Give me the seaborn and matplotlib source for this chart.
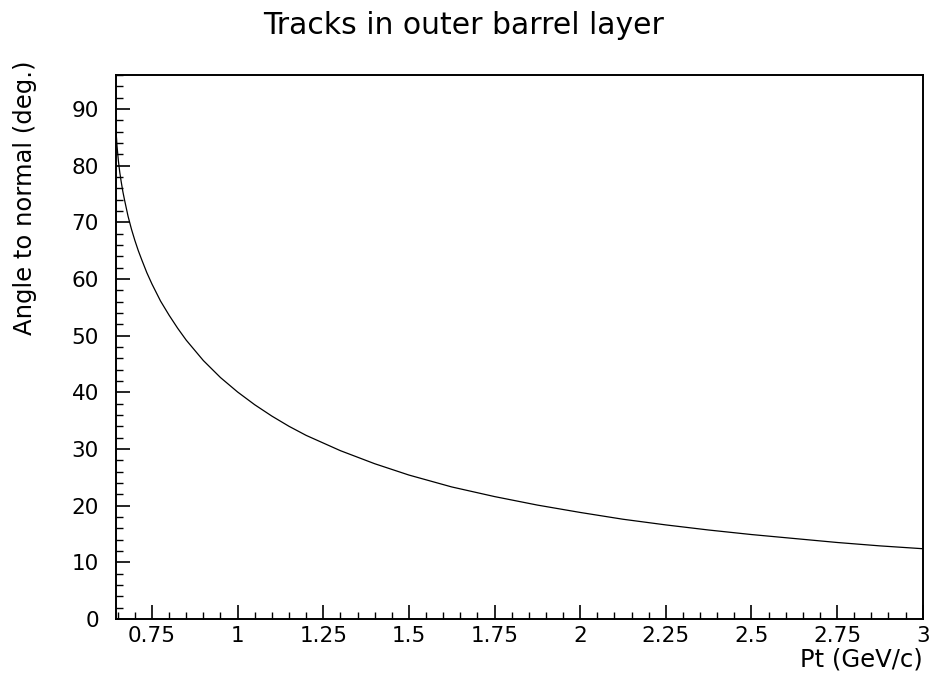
import matplotlib
matplotlib.use("Agg")
import matplotlib.pyplot as plt
import seaborn as sns
import pandas as pd
from matplotlib.ticker import MultipleLocator, FixedLocator

pt_values = [0.645, 0.648, 0.652, 0.656, 0.66, 0.665, 0.67, 0.68, 0.69, 0.70, 0.71, 0.72,
             0.735, 0.75, 0.775, 0.8, 0.825, 0.85, 0.875, 0.9, 0.95, 1.0, 1.05, 1.1, 1.15,
             1.2, 1.3, 1.4, 1.5, 1.625, 1.75, 1.875, 2.0, 2.125, 2.25, 2.375, 2.5, 2.625,
             2.75, 2.875, 3.0]
angle_values = [86.1, 83.4, 80.8, 78.8, 77.2, 75.4, 73.9, 71.1, 68.8, 66.8, 65.0, 63.4,
                61.1, 59.1, 56.1, 53.6, 51.3, 49.2, 47.4, 45.6, 42.6, 40.05, 37.8, 35.8, 34.0,
                32.4, 29.7, 27.4, 25.4, 23.3, 21.6, 20.1, 18.8, 17.6, 16.6, 15.7, 14.9, 14.2,
                13.5, 12.9, 12.4]

title = "Tracks in outer barrel layer"
xlabel = "Pt (GeV/c)"
ylabel = "Angle to normal (deg.)"
xticks = [0.75, 1.0, 1.25, 1.5, 1.75, 2.0, 2.25, 2.5, 2.75, 3.0]
xticklabels = ["0.75", "1", "1.25", "1.5", "1.75", "2", "2.25", "2.5", "2.75", "3"]
yticks = [0, 10, 20, 30, 40, 50, 60, 70, 80, 90]

sns.set_theme(style="ticks")
plt.rcParams['font.family'] = ['DejaVu Sans']
plt.rcParams['text.color'] = 'black'

df = pd.DataFrame({"pt": pt_values, "angle": angle_values})

fig = plt.figure(figsize=(9.33, 6.77), dpi=100)
ax = fig.add_axes([0.1238, 0.0857, 0.989 - 0.1238, 0.8897 - 0.0857])
sns.lineplot(data=df, x="pt", y="angle", ax=ax, color="black", linewidth=0.9)

ax.set_xlim(0.6435, 3.0)
ax.set_ylim(0, 96.05)
ax.xaxis.set_major_locator(FixedLocator(xticks))
ax.set_xticklabels(xticklabels)
ax.xaxis.set_minor_locator(MultipleLocator(0.05))
ax.yaxis.set_major_locator(FixedLocator(yticks))
ax.yaxis.set_minor_locator(MultipleLocator(2))

ax.tick_params(axis="both", which="major", direction="in", length=10, width=1.2,
               labelsize=15.5, colors="black", labelcolor="black")
ax.tick_params(axis="x", which="major", pad=5)
ax.tick_params(axis="y", which="major", pad=12)
ax.tick_params(axis="both", which="minor", direction="in", length=5, width=1.0, colors="black")
ax.tick_params(axis="x", which="both", top=False)
ax.tick_params(axis="y", which="both", right=False)
for s in ax.spines.values():
    s.set_linewidth(1.4)
    s.set_color("black")

ax.set_xlabel("")
ax.set_ylabel("")
fig.text(0.989, 0.008, xlabel, ha="right", va="bottom", fontsize=17.5, color="black")
fig.text(0.027, 0.91, ylabel, ha="center", va="top", rotation=90, fontsize=17.5, color="black")
fig.text(0.497, 0.963, title, ha="center", va="center", fontsize=21.5, color="black")

fig.savefig("out.png", dpi=100)
